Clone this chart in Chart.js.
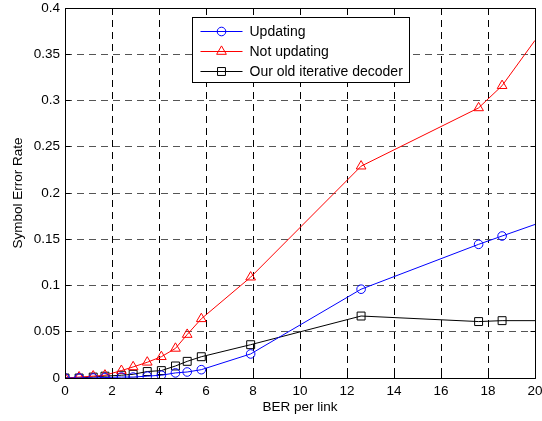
<!DOCTYPE html>
<html>
<head>
<meta charset="utf-8">
<script src="https://cdn.jsdelivr.net/npm/chart.js@4.4.0/dist/chart.umd.min.js"></script>
<style>
    html, body { margin: 0; padding: 0; background: #fff; }
</style>
</head>
<body>
<canvas id="serChart" width="542" height="421"></canvas>
<script>
// BER per link (x), shared by the three curves
const berPerLink = [0, 0.6, 1.2, 1.7, 2.4, 2.9, 3.5, 4.1, 4.7, 5.2, 5.8, 7.9, 12.6, 17.6, 18.6, 20];

// Symbol error rate for each curve
const serUpdating    = [0, 0, 0, 0.0005, 0.001, 0.001, 0.002, 0.003, 0.0055, 0.0065, 0.009, 0.026, 0.096, 0.1445, 0.1535, 0.166];
const serNotUpdating = [0, 0.001, 0.002, 0.003, 0.008, 0.012, 0.017, 0.023, 0.032, 0.047, 0.064, 0.109, 0.229, 0.292, 0.316, 0.365];
const serOldDecoder  = [0, 0, 0.001, 0.002, 0.003, 0.004, 0.007, 0.008, 0.013, 0.018, 0.023, 0.036, 0.067, 0.061, 0.062, 0.062];

const seriesLabels = ['Updating', 'Not updating', 'Our old iterative decoder'];

// Tick labels
const xTickLabels = ['0', '2', '4', '6', '8', '10', '12', '14', '16', '18', '20'];
const yTickLabels = ['0', '0.05', '0.1', '0.15', '0.2', '0.25', '0.3', '0.35', '0.4'];

const FONT = "'Liberation Sans', Arial, Helvetica, sans-serif";

// Pair the x values with one curve
function toPoints(values) {
    return berPerLink.map((x, i) => ({ x: x, y: values[i] }));
}

// Last point only marks where the line leaves the axes, no marker there
function markerSize(size) {
    return (ctx) => ctx.dataIndex === berPerLink.length - 1 ? 0 : size;
}

function makeDataset(label, values, color, style, size) {
    return {
        label: label,
        data: toPoints(values),
        borderColor: color,
        backgroundColor: 'rgba(0,0,0,0)',
        borderWidth: 1,
        pointStyle: style,
        pointRadius: markerSize(size),
        legendMarker: size,
        pointBorderWidth: 1,
        pointBorderColor: color,
        pointBackgroundColor: 'rgba(0,0,0,0)',
        pointHoverRadius: 0,
        tension: 0,
        fill: false
    };
}

// Box round the axes with inward ticks on all four sides
const axesFrame = {
    id: 'axesFrame',
    afterDraw(chart) {
        const { ctx, chartArea: a, scales } = chart;
        const align = (p) => Math.round(p - 0.5) + 0.5;
        const L = align(a.left), R = align(a.right), T = align(a.top), B = align(a.bottom);
        const tick = 5;

        ctx.save();
        ctx.strokeStyle = '#000';
        ctx.lineWidth = 1;
        ctx.setLineDash([]);
        ctx.beginPath();
        ctx.rect(L, T, R - L, B - T);

        scales.x.ticks.forEach(t => {
            const px = align(scales.x.getPixelForValue(t.value));
            ctx.moveTo(px, B); ctx.lineTo(px, B - tick);
            ctx.moveTo(px, T); ctx.lineTo(px, T + tick);
        });
        scales.y.ticks.forEach(t => {
            const py = align(scales.y.getPixelForValue(t.value));
            ctx.moveTo(L, py); ctx.lineTo(L + tick, py);
            ctx.moveTo(R, py); ctx.lineTo(R - tick, py);
        });
        ctx.stroke();
        ctx.restore();
    }
};

// Legend box at the top centre of the axes
const boxedLegend = {
    id: 'boxedLegend',
    afterDraw(chart) {
        const { ctx, chartArea: a } = chart;
        const sets = chart.data.datasets;
        const rowH = 20.3;
        const padL = 8, sampleW = 42, gap = 7, padR = 7;

        ctx.save();
        ctx.font = '14px ' + FONT;
        const textW = Math.max(...sets.map(d => ctx.measureText(d.label).width));
        const w = Math.round(padL + sampleW + gap + textW + padR);
        const h = Math.round(rowH * sets.length + 4);
        const x0 = Math.round((a.left + a.right) / 2 - w / 2) + 0.5;
        const y0 = Math.round(a.top + 9) + 0.5;

        ctx.fillStyle = '#fff';
        ctx.fillRect(x0, y0, w, h);
        ctx.strokeStyle = '#000';
        ctx.lineWidth = 1;
        ctx.strokeRect(x0, y0, w, h);

        sets.forEach((d, i) => {
            const cy = Math.round(y0 + 13 + i * rowH) + 0.5;
            const sx = x0 + padL;
            ctx.strokeStyle = d.borderColor;
            ctx.fillStyle = 'rgba(0,0,0,0)';
            ctx.beginPath();
            ctx.moveTo(sx, cy);
            ctx.lineTo(sx + sampleW, cy);
            ctx.stroke();
            Chart.helpers.drawPoint(ctx, {
                pointStyle: d.pointStyle,
                radius: d.legendMarker,
                borderWidth: 1,
                rotation: 0
            }, sx + sampleW / 2, cy);
            ctx.fillStyle = '#000';
            ctx.textBaseline = 'middle';
            ctx.textAlign = 'left';
            ctx.fillText(d.label, sx + sampleW + gap, cy + 1);
        });
        ctx.restore();
    }
};

const ctx = document.getElementById('serChart').getContext('2d');
const serChart = new Chart(ctx, {
    type: 'line',
    data: {
        datasets: [
            makeDataset(seriesLabels[0], serUpdating, '#0000ff', 'circle', 4.3),
            makeDataset(seriesLabels[1], serNotUpdating, '#ff0000', 'triangle', 5.6),
            makeDataset(seriesLabels[2], serOldDecoder, '#000000', 'rect', 5.6)
        ]
    },
    options: {
        responsive: false,
        animation: false,
        events: [],
        layout: {
            padding: { top: 8, right: 7, left: 0, bottom: 0 }
        },
        plugins: {
            legend: { display: false },
            tooltip: { enabled: false }
        },
        scales: {
            x: {
                type: 'linear',
                min: 0,
                max: 20,
                afterFit: (scale) => {
                    scale.height = 43;
                    scale.paddingLeft = 0;
                    scale.paddingRight = 0;
                },
                ticks: {
                    stepSize: 2,
                    padding: 5,
                    color: '#000',
                    font: { family: FONT, size: 13.5 },
                    maxRotation: 0,
                    callback: (value) => xTickLabels[Math.round(value / 2)]
                },
                grid: {
                    color: '#000',
                    lineWidth: 1,
                    drawTicks: false
                },
                border: { display: false, dash: [7, 5] },
                title: {
                    display: true,
                    text: 'BER per link',
                    color: '#000',
                    font: { family: FONT, size: 13.5 },
                    padding: { top: 0, bottom: 6 }
                }
            },
            y: {
                type: 'linear',
                min: 0,
                max: 0.4,
                afterFit: (scale) => {
                    scale.width = 65;
                    scale.paddingTop = 0;
                    scale.paddingBottom = 0;
                },
                ticks: {
                    stepSize: 0.05,
                    padding: 5,
                    color: '#000',
                    font: { family: FONT, size: 13.5 },
                    callback: (value) => yTickLabels[Math.round(value / 0.05)]
                },
                grid: {
                    color: '#555',
                    lineWidth: 1,
                    drawTicks: false
                },
                border: { display: false, dash: [7, 5] },
                title: {
                    display: true,
                    text: 'Symbol Error Rate',
                    color: '#000',
                    font: { family: FONT, size: 13.5 },
                    padding: { top: 10, bottom: 0 }
                }
            }
        }
    },
    plugins: [axesFrame, boxedLegend]
});
</script>
</body>
</html>
